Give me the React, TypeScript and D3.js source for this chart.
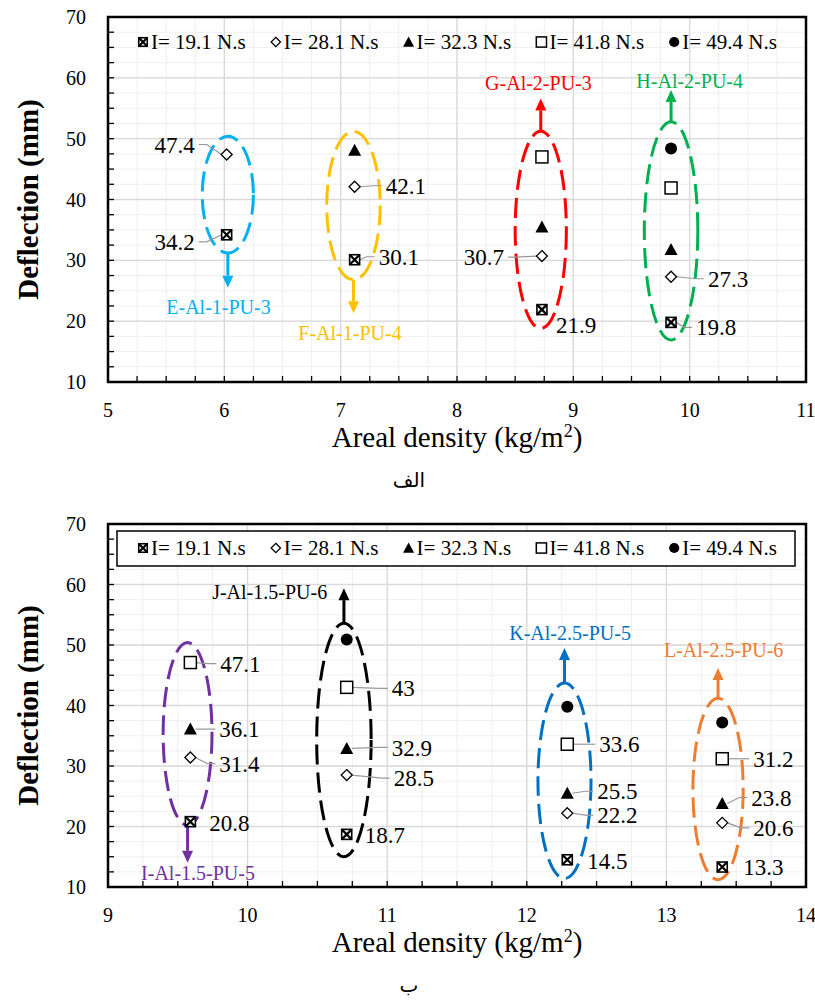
import React from "react";
import * as d3 from "d3";

// ---------- data ----------
const impulseLabels = ["I= 19.1 N.s", "I= 28.1 N.s", "I= 32.3 N.s", "I= 41.8 N.s", "I= 49.4 N.s"];
const markerShapes = ["xsq", "diamond", "triangle", "square", "circle"];
const yTicks = [10, 20, 30, 40, 50, 60, 70];

// panel الف
const panelASamples = ["E-Al-1-PU-3", "F-Al-1-PU-4", "G-Al-2-PU-3", "H-Al-2-PU-4"];
const panelADensity = [6.02, 7.12, 8.73, 9.84];
const panelADeflection: (number | null)[][] = [
  [34.2, 47.4, null, null, null],
  [30.1, 42.1, 48.1, null, null],
  [21.9, 30.7, 35.5, 47.0, null],
  [19.8, 27.3, 31.8, 41.9, 48.4],
];
const panelAColors = ["#00b0f0", "#ffc000", "#ff0000", "#00b050"];
const panelAXTicks = [5, 6, 7, 8, 9, 10, 11];

// panel ب
const panelBSamples = ["I-Al-1.5-PU-5", "J-Al-1.5-PU-6", "K-Al-2.5-PU-5", "L-Al-2.5-PU-6"];
const panelBDensity = [9.59, 10.71, 12.29, 13.4];
const panelBDeflection: (number | null)[][] = [
  [20.8, 31.4, 36.1, 47.1, null],
  [18.7, 28.5, 32.9, 43.0, 50.9],
  [14.5, 22.2, 25.5, 33.6, 39.8],
  [13.3, 20.6, 23.8, 31.2, 37.2],
];
const panelBColors = ["#7030a0", "#000000", "#0070c0", "#ed7d31"];
const panelBXTicks = [9, 10, 11, 12, 13, 14];

// ---------- annotation layout (ellipses in data units) ----------
type Ell = { cx: number; hw: number; top: number; bot: number; arrowTo: number; lx: number; ly: number; anchor: string };
const panelAEllipses: Ell[] = [
  { cx: 6.03, hw: 0.22, top: 50.4, bot: 31.2, arrowTo: 25.5, lx: 5.95, ly: 22.3, anchor: "middle" },
  { cx: 7.11, hw: 0.23, top: 51.2, bot: 26.8, arrowTo: 21.3, lx: 7.08, ly: 18.0, anchor: "middle" },
  { cx: 8.72, hw: 0.22, top: 51.2, bot: 18.8, arrowTo: 56.6, lx: 8.7, ly: 59.2, anchor: "middle" },
  { cx: 9.84, hw: 0.23, top: 52.8, bot: 16.9, arrowTo: 58.0, lx: 10.0, ly: 59.4, anchor: "middle" },
];
const panelBEllipses: Ell[] = [
  { cx: 9.57, hw: 0.175, top: 50.4, bot: 20.2, arrowTo: 14.0, lx: 9.645, ly: 12.3, anchor: "middle" },
  { cx: 10.69, hw: 0.195, top: 53.6, bot: 15.0, arrowTo: 59.4, lx: 10.57, ly: 58.8, anchor: "end" },
  { cx: 12.27, hw: 0.19, top: 43.7, bot: 11.4, arrowTo: 49.5, lx: 12.31, ly: 52.0, anchor: "middle" },
  { cx: 13.37, hw: 0.18, top: 41.2, bot: 11.2, arrowTo: 46.2, lx: 13.41, ly: 49.2, anchor: "middle" },
];
// [group, series, dx px, dy px]
const panelALabels: number[][] = [
  [0, 1, -32, -10], [0, 0, -32, 7],
  [1, 1, 31, -1], [1, 0, 24, -3],
  [2, 1, -38, 1], [2, 0, 14, 15],
  [3, 1, 37, 2], [3, 0, 25, 5],
];
const panelBLabels: number[][] = [
  [0, 3, 30, 1], [0, 2, 29, 0], [0, 1, 29, 6], [0, 0, 19, 1],
  [1, 3, 45, 1], [1, 2, 45, -1], [1, 1, 47, 3], [1, 0, 18, 1],
  [2, 3, 32, 0], [2, 2, 30, -2], [2, 1, 30, 2], [2, 0, 20, 1],
  [3, 3, 31, 0], [3, 2, 29, -6], [3, 1, 31, 5], [3, 0, 21, 0],
];

const SERIF = '"Liberation Serif"';
const serif = (size: number, extra: any = {}) => ({ fontFamily: SERIF, fontSize: size + "px", ...extra });

function Marker({ shape, x, y, k = 1 }: { shape: string; x: number; y: number; k?: number }) {
  if (shape === "xsq") {
    const s = 5 * k;
    return (
      <g>
        <rect x={x - s} y={y - s} width={2 * s} height={2 * s} fill="#fff" stroke="#000" strokeWidth={1.6} />
        <path d={`M${x - s},${y - s}L${x + s},${y + s}M${x + s},${y - s}L${x - s},${y + s}`} stroke="#000" strokeWidth={2.2} />
      </g>
    );
  }
  if (shape === "diamond") {
    const s = 5.5 * k;
    return <path d={`M${x},${y - s}L${x + s},${y}L${x},${y + s}L${x - s},${y}Z`} fill="#fff" stroke="#000" strokeWidth={1.3} />;
  }
  if (shape === "triangle") {
    const s = 6.5 * k;
    return <path d={`M${x},${y - s}L${x + s},${y + s * 0.85}L${x - s},${y + s * 0.85}Z`} fill="#000" />;
  }
  if (shape === "square") {
    const s = 6 * k;
    return <rect x={x - s} y={y - s} width={2 * s} height={2 * s} fill="#fff" stroke="#000" strokeWidth={1.5} />;
  }
  return <circle cx={x} cy={y} r={6 * k} fill="#000" />;
}

type PanelProps = {
  xDomain: [number, number];
  xTicks: number[];
  top: number;
  bottom: number;
  samples: string[];
  density: number[];
  deflection: (number | null)[][];
  colors: string[];
  ellipses: Ell[];
  labels: number[][];
  legendBox: boolean;
  caption: string;
};

function Panel(p: PanelProps) {
  const left = 108, right = 806;
  const x = d3.scaleLinear().domain(p.xDomain).range([left, right]);
  const y = d3.scaleLinear().domain([10, 70]).range([p.bottom, p.top]);
  const minorX = d3.range(p.xDomain[0], p.xDomain[1] + 1e-9, 0.25);
  const minorY = d3.range(10, 70 + 1e-9, 2.5);
  const legendY = p.legendBox ? p.top + 24 : p.top + 25;

  return (
    <g>
      {minorX.map((v, i) => (
        <line key={"mx" + i} x1={x(v)} x2={x(v)} y1={p.top} y2={p.bottom} stroke="#efefef" strokeWidth={1} />
      ))}
      {minorY.map((v, i) => (
        <line key={"my" + i} x1={left} x2={right} y1={y(v)} y2={y(v)} stroke="#efefef" strokeWidth={1} />
      ))}
      {p.xTicks.map((v) => (
        <line key={"gx" + v} x1={x(v)} x2={x(v)} y1={p.top} y2={p.bottom} stroke="#d9d9d9" strokeWidth={1.3} />
      ))}
      {yTicks.map((v) => (
        <line key={"gy" + v} x1={left} x2={right} y1={y(v)} y2={y(v)} stroke="#d9d9d9" strokeWidth={1.3} />
      ))}
      {minorX.map((v, i) => (
        <line key={"tx" + i} x1={x(v)} x2={x(v)} y1={p.bottom} y2={p.bottom - 6} stroke="#000" strokeWidth={1.3} />
      ))}
      {minorY.map((v, i) => (
        <line key={"ty" + i} x1={left} x2={left + 6} y1={y(v)} y2={y(v)} stroke="#000" strokeWidth={1.3} />
      ))}

      {p.ellipses.map((e, i) => {
        const cx = x(e.cx);
        const rx = x(e.cx + e.hw) - cx;
        const yt = y(e.top), yb = y(e.bot);
        const cy = (yt + yb) / 2, ry = (yb - yt) / 2;
        const down = e.arrowTo < e.bot;
        const y0 = down ? yb : yt;
        const y1 = y(e.arrowTo);
        const dir = down ? 1 : -1;
        const head = 12;
        return (
          <g key={"el" + i}>
            <ellipse cx={cx} cy={cy} rx={rx} ry={ry} fill="none" stroke={p.colors[i]} strokeWidth={3} strokeDasharray="20 8" />
            <line x1={cx} x2={cx} y1={y0} y2={y1 - dir * head} stroke={p.colors[i]} strokeWidth={3} />
            <path d={`M${cx},${y1}L${cx - 5.5},${y1 - dir * head}L${cx + 5.5},${y1 - dir * head}Z`} fill={p.colors[i]} />
            <text x={x(e.lx)} y={y(e.ly)} dy="0.35em" textAnchor={e.anchor} fill={p.colors[i]} style={serif(20)}>
              {p.samples[i]}
            </text>
          </g>
        );
      })}

      {p.labels.map(([g, s, dx, dy], i) => {
        const v = p.deflection[g][s] as number;
        const mx = x(p.density[g]), my = y(v);
        const sign = dx > 0 ? 1 : -1;
        const tx = mx + dx, ty = my + dy;
        const ex = tx - sign * 4;
        const path = `M${mx + sign * 5},${my}L${ex - sign * 8},${ty}L${ex},${ty}`;
        return (
          <g key={"lb" + i}>
            {Math.abs(dx) > 22 && <path d={path} fill="none" stroke="#999999" strokeWidth={1.2} />}
            <text x={tx} y={ty} dy="0.35em" textAnchor={dx > 0 ? "start" : "end"} fill="#000" style={serif(23)}>
              {v}
            </text>
          </g>
        );
      })}

      {p.deflection.map((row, g) =>
        row.map((v, s) =>
          v == null ? null : <Marker key={`m${g}-${s}`} shape={markerShapes[s]} x={x(p.density[g])} y={y(v)} />
        )
      )}

      {p.legendBox && (
        <rect x={117} y={p.top + 7} width={678} height={35} fill="#fff" stroke="#000" strokeWidth={1.5} />
      )}
      {impulseLabels.map((t, i) => {
        const lx = 143 + i * 132.8;
        return (
          <g key={"lg" + i}>
            <Marker shape={markerShapes[i]} x={lx} y={legendY} k={0.85} />
            <text x={lx + 8} y={legendY} dy="0.35em" fill="#000" style={serif(21)}>
              {t}
            </text>
          </g>
        );
      })}

      <rect x={left} y={p.top} width={right - left} height={p.bottom - p.top} fill="none" stroke="#000" strokeWidth={2.5} />

      {yTicks.map((v) => (
        <text key={"yl" + v} x={86} y={y(v)} dy="0.35em" textAnchor="end" fill="#000" style={serif(20)}>
          {v}
        </text>
      ))}
      {p.xTicks.map((v) => (
        <text key={"xl" + v} x={x(v)} y={p.bottom + 28} dy="0.35em" textAnchor="middle" fill="#000" style={serif(20)}>
          {v}
        </text>
      ))}

      <text x={457} y={p.bottom + 65} textAnchor="middle" fill="#000" style={serif(29)}>
        Areal density (kg/m<tspan dy="-10" style={{ fontSize: "18px" }}>2</tspan><tspan dy="10">)</tspan>
      </text>
      <text
        transform={`translate(38,${(p.top + p.bottom) / 2}) rotate(-90)`}
        textAnchor="middle"
        fill="#000"
        style={serif(29, { fontWeight: "bold" })}
      >
        Deflection (mm)
      </text>
      <text x={409} y={p.bottom + 98} dy="0.35em" textAnchor="middle" fill="#000" style={{ fontFamily: '"DejaVu Sans"', fontSize: "20px" }}>
        {p.caption}
      </text>
    </g>
  );
}

export default function App() {
  return (
    <svg width={815} height={1001} viewBox="0 0 815 1001" style={{ position: "absolute", left: 0, top: 0, background: "#fff" }}>
      <rect width={815} height={1001} fill="#fff" />
      <Panel
        xDomain={[5, 11]}
        xTicks={panelAXTicks}
        top={17}
        bottom={382}
        samples={panelASamples}
        density={panelADensity}
        deflection={panelADeflection}
        colors={panelAColors}
        ellipses={panelAEllipses}
        labels={panelALabels}
        legendBox={false}
        caption="الف"
      />
      <Panel
        xDomain={[9, 14]}
        xTicks={panelBXTicks}
        top={524}
        bottom={887}
        samples={panelBSamples}
        density={panelBDensity}
        deflection={panelBDeflection}
        colors={panelBColors}
        ellipses={panelBEllipses}
        labels={panelBLabels}
        legendBox={true}
        caption="ب"
      />
    </svg>
  );
}
